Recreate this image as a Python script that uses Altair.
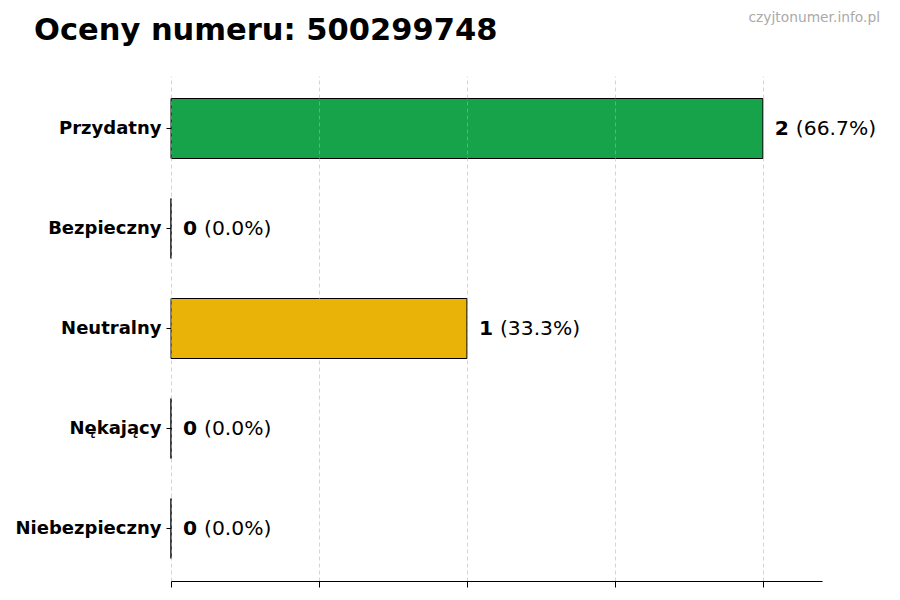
import altair as alt
import pandas as pd

categories = ["Przydatny", "Bezpieczny", "Neutralny", "Nękający", "Niebezpieczny"]
counts = [2, 0, 1, 0, 0]
colors = ["#16a34a", "#4ade80", "#eab308", "#f97316", "#dc2626"]
tick_values = [0, 0.5, 1, 1.5, 2]
title_text = "Oceny numeru: 500299748"
watermark_text = "czyjtonumer.info.pl"

total = sum(counts)
df = pd.DataFrame({
    "kategoria": categories,
    "liczba": counts,
    "num_label": [str(c) for c in counts],
    "pct_label": [f"({c / total * 100:.1f}%)" for c in counts],
})

FONT = "DejaVu Sans"

y_enc = alt.Y(
    "kategoria:N",
    sort=categories,
    scale=alt.Scale(paddingInner=0.4, paddingOuter=0.225),
    axis=alt.Axis(
        title=None, domain=False, ticks=True, tickSize=5, tickColor="black",
        labelFont=FONT, labelFontSize=18, labelFontWeight="bold",
        labelColor="black", labelPadding=5, grid=False,
    ),
)
x_enc = alt.X(
    "liczba:Q",
    scale=alt.Scale(domain=[0, 2.2], nice=False, zero=True),
    axis=alt.Axis(
        title=None, values=tick_values, labels=False, ticks=True, tickSize=6,
        tickColor="black", domain=True, domainColor="black", domainWidth=1,
        grid=True, gridDash=[4, 3], gridColor="#b0b0b0", gridOpacity=0.55,
        zindex=1,
    ),
)

base = alt.Chart(df)

bars = base.mark_bar(stroke="black", strokeWidth=1).encode(
    y=y_enc,
    x=x_enc,
    color=alt.Color("kategoria:N", scale=alt.Scale(domain=categories, range=colors), legend=None),
)

num_text = base.mark_text(
    align="left", baseline="middle", dx=12, font=FONT, fontSize=20.3,
    fontWeight="bold", color="black",
).encode(y=alt.Y("kategoria:N", sort=categories), x="liczba:Q", text="num_label:N")

pct_text = base.mark_text(
    align="left", baseline="middle", dx=33, font=FONT, fontSize=20.3,
    color="black",
).encode(y=alt.Y("kategoria:N", sort=categories), x="liczba:Q", text="pct_label:N")

watermark = alt.Chart(pd.DataFrame({"t": [watermark_text]})).mark_text(
    align="right", baseline="middle", font=FONT, fontSize=13.8, color="#aaaaaa",
).encode(x=alt.value(709), y=alt.value(-58), text="t:N")

title = alt.Chart(pd.DataFrame({"t": [title_text]})).mark_text(
    align="left", baseline="alphabetic", font=FONT, fontSize=30.5,
    fontWeight="bold", color="black",
).encode(x=alt.value(-137), y=alt.value(-36), text="t:N")

chart = alt.layer(bars, num_text, pct_text, watermark, title).properties(
    width=651,
    height=505,
    autosize=alt.AutoSizeParams(type="none"),
    padding={"left": 163, "top": 68, "right": 62, "bottom": 10},
).configure_view(stroke=None)

chart.save("out.html", embed_options={"renderer": "svg", "actions": False})
